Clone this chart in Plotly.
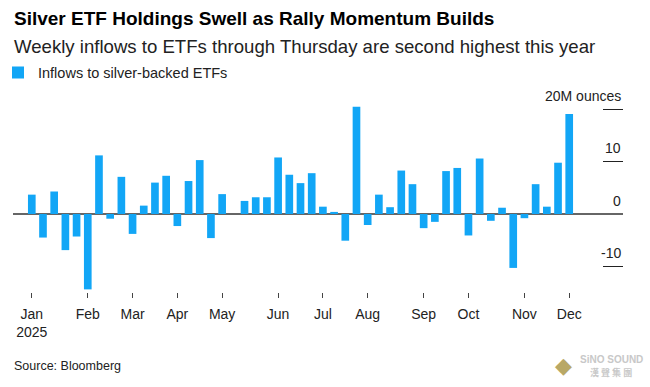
import pandas as pd
import plotly.graph_objects as go

# ---------------- data ----------------
week_dates = pd.date_range("2025-01-03", periods=49, freq="7D")  # weekly periods
inflows = [3.7, -4.5, 4.3, -6.9, -4.3, -14.4, 11.2, -0.9, 7.1, -3.8,
           1.6, 6.0, 7.3, -2.3, 6.3, 10.3, -4.6, 3.8, 0.0, 2.5,
           3.2, 3.2, 10.8, 7.5, 5.9, 7.8, 1.4, 0.4, -5.1, 20.5,
           -2.1, 3.7, 1.3, 8.3, 5.7, -2.7, -1.5, 8.2, 8.8, -4.1,
           10.6, -1.3, 1.2, -10.3, -0.8, 5.7, 1.4, 9.8, 19.1]
series_name = "Inflows to silver-backed ETFs"
month_labels = ["Jan", "Feb", "Mar", "Apr", "May", "Jun",
                "Jul", "Aug", "Sep", "Oct", "Nov", "Dec"]
year_label = "2025"
y_tick_values = [20, 10, 0, -10]
y_tick_labels = ["20M ounces", "10", "0", "-10"]

title = "Silver ETF Holdings Swell as Rally Momentum Builds"
subtitle = "Weekly inflows to ETFs through Thursday are second highest this year"
source = "Source: Bloomberg"

# ---------------- layout geometry ----------------
W, H = 650, 387
L, R, T, B = 13, 27, 100, 95
PW, PH = W - L - R, H - T - B
FONT = "Liberation Sans, Arial, sans-serif"
BAR_COLOR = "#12A6F6"


def px_x(px):
    return (px - L) / PW


def px_y(py):
    return (H - B - py) / PH


# first week of every month -> tick positions
tick_dates = []
seen = set()
for d in week_dates:
    if d.month not in seen:
        seen.add(d.month)
        tick_dates.append(d)

# two-line labels everywhere (year only under the first month)
tick_text = [f"{m}<br>{year_label if i == 0 else chr(160)}"
             for i, m in enumerate(month_labels)]

fig = go.Figure()
fig.add_trace(go.Bar(
    x=week_dates, y=inflows, name=series_name,
    marker=dict(color=BAR_COLOR, line=dict(width=0)),
    showlegend=True,
))

annotations = [
    dict(text=f"<b>{title}</b>", x=px_x(12), y=px_y(18.5), xref="paper", yref="paper",
         xanchor="left", yanchor="middle", showarrow=False,
         font=dict(family=FONT, size=19, color="#000000")),
    dict(text=subtitle, x=px_x(12), y=px_y(46), xref="paper", yref="paper",
         xanchor="left", yanchor="middle", showarrow=False,
         font=dict(family=FONT, size=18.6, color="#222222")),
    dict(text=source, x=px_x(11.5), y=px_y(366), xref="paper", yref="paper",
         xanchor="left", yanchor="middle", showarrow=False,
         font=dict(family=FONT, size=12.5, color="#222222")),
    # watermark
    dict(text="◆", x=px_x(563), y=px_y(365), xref="paper", yref="paper",
         xanchor="center", yanchor="middle", showarrow=False,
         font=dict(family=FONT, size=22, color="#B8A866")),
    dict(text="<b>SiNO SOUND</b>", x=px_x(611), y=px_y(359), xref="paper", yref="paper",
         xanchor="center", yanchor="middle", showarrow=False,
         font=dict(family=FONT, size=10, color="#C8C8C8")),
    dict(text="<b>漢 聲 集 團</b>", x=px_x(611), y=px_y(372), xref="paper", yref="paper",
         xanchor="center", yanchor="middle", showarrow=False,
         font=dict(family="Noto Sans CJK TC", size=9, color="#C8C8C8")),
]
for v, lab in zip(y_tick_values, y_tick_labels):
    annotations.append(dict(
        text=lab, x=1, y=v, xref="paper", yref="y", xanchor="right",
        yanchor="middle", yshift=13.5, showarrow=False,
        font=dict(family=FONT, size=14, color="#222222")))

fig.update_layout(
    width=W, height=H, autosize=False,
    margin=dict(l=L, r=R, t=T, b=B, pad=0, autoexpand=False),
    paper_bgcolor="white", plot_bgcolor="white",
    bargap=0.315,
    font=dict(family=FONT, size=14, color="#222222"),
    showlegend=True,
    legend=dict(orientation="h", x=px_x(-2), y=px_y(72.5), xanchor="left",
                yanchor="middle", font=dict(family=FONT, size=14.5, color="#222222"),
                itemwidth=30, bgcolor="rgba(0,0,0,0)", borderwidth=0),
    annotations=annotations,
    xaxis=dict(
        type="date",
        range=["2024-12-22 06:00", "2026-01-07 15:00"],
        tickvals=tick_dates, ticktext=tick_text,
        ticks="outside", ticklen=5, tickwidth=1, tickcolor="#444444",
        ticklabelstandoff=4,
        showgrid=False, zeroline=False, showline=False,
        tickfont=dict(family=FONT, size=14, color="#222222"),
        fixedrange=True,
    ),
    yaxis=dict(
        range=[-14.9, 21.78],
        side="right",
        tickvals=[v for v in y_tick_values if v != 0],
        ticks="inside", ticklen=20, tickwidth=1.3, tickcolor="#222222",
        showticklabels=False,
        showgrid=False, showline=False,
        zeroline=True, zerolinecolor="#666666", zerolinewidth=1.5,
        fixedrange=True,
    ),
)

fig.write_html("out.html", config={"displayModeBar": False},
               post_script="document.body.style.margin='0';document.body.style.padding='0';")
